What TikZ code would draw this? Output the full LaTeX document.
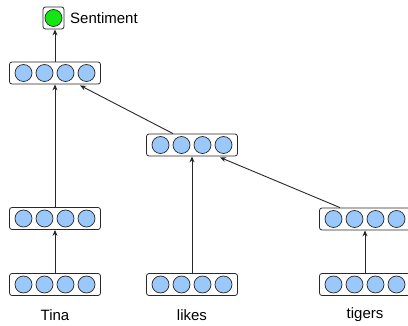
\documentclass[tikz,border=0pt]{standalone}
\usepackage{fontspec}
\setmainfont{Liberation Sans}
\usetikzlibrary{arrows.meta,calc}
\definecolor{unitblue}{RGB}{155,200,250}
\definecolor{unitgreen}{RGB}{20,230,20}
\definecolor{edge}{RGB}{40,40,40}
\tikzset{
  vecbox/.style={draw=edge, fill=white, rounded corners=2.5pt, line width=0.8pt,
                 minimum width=91pt, minimum height=22pt, inner sep=0pt},
  outbox/.style={vecbox, minimum width=21pt},
  unit/.style={circle, draw=edge, line width=0.7pt, fill=unitblue,
               minimum size=17pt, inner sep=0pt},
  outunit/.style={unit, fill=unitgreen},
  link/.style={draw=edge, line width=0.9pt, -{Stealth[length=6pt,width=5pt]}},
  word/.style={font=\fontsize{15pt}{17pt}\selectfont, inner sep=0pt}
}
% a box of four units centred at #2, named #1
\newcommand{\vecrow}[2]{%
  \node[vecbox] (#1) at (#2) {};
  \foreach \dx [count=\k] in {-31.5,-10.5,10.5,31.5}
    \node[unit] (#1-\k) at ($(#1.center)+(\dx,0)$) {};
}
\begin{document}
\begin{tikzpicture}[x=1pt,y=-1pt]
\useasboundingbox (0,0) rectangle (408,326);
\clip (0,0) rectangle (408,326);

% output node
\node[outbox] (sent) at (53.5,18) {};
\node[outunit] (sent-1) at (sent.center) {};
\node[word, anchor=west] (senttext) at (70,18.5) {Sentiment};

% vector rows
\vecrow{root}{55,73}
\vecrow{vp}{192,145}
\vecrow{tinaH}{55,218.5}
\vecrow{tigH}{365,219}
\vecrow{tinaE}{55,284.5}
\vecrow{likesE}{192,284.5}
\vecrow{tigE}{365,284.5}

% words
\node[word] (w1) at (55,315) {Tina};
\node[word] (w2) at (192,315) {likes};
\node[word] (w3) at (365,315) {tigers};

% connectors
\draw[link] (tinaE.north) -- (tinaH.south);
\draw[link] (likesE.north) -- (vp.south);
\draw[link] (tigE.north) -- (tigH.south);
\draw[link] (tinaH.north) -- (root.south);
\draw[link] ($(vp.north)+(-19,0)$) -- ($(root.south)+(25,1)$);
\draw[link] ($(tigH.north)+(-25,0)$) -- ($(vp.south)+(28,1)$);
\draw[link] (root.north) -- (root.north |- sent.south);
\end{tikzpicture}
\end{document}
